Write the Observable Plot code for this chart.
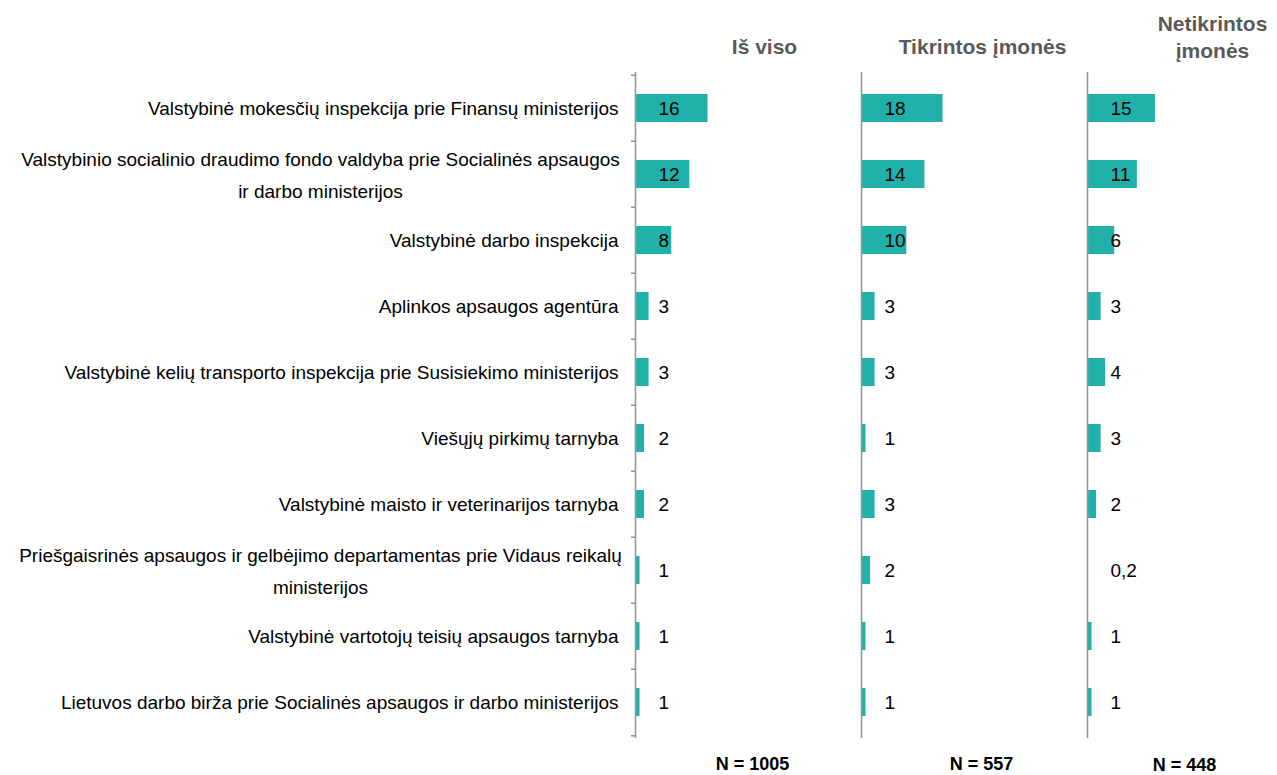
<!DOCTYPE html>
<html><head><meta charset="utf-8">
<script src="https://cdn.jsdelivr.net/npm/d3@7"></script>
<script src="https://cdn.jsdelivr.net/npm/@observablehq/plot@0.6"></script>
<style>
body{margin:0;background:#fff;font-family:"Liberation Sans",Arial,sans-serif}
#chart svg{overflow:visible}
</style>
</head><body><div id="chart"></div>
<script>
const categories = [
  "Valstybinė mokesčių inspekcija prie Finansų ministerijos",
  "Valstybinio socialinio draudimo fondo valdyba prie Socialinės apsaugos\nir darbo ministerijos",
  "Valstybinė darbo inspekcija",
  "Aplinkos apsaugos agentūra",
  "Valstybinė kelių transporto inspekcija prie Susisiekimo ministerijos",
  "Viešųjų pirkimų tarnyba",
  "Valstybinė maisto ir veterinarijos tarnyba",
  "Priešgaisrinės apsaugos ir gelbėjimo departamentas prie Vidaus reikalų\nministerijos",
  "Valstybinė vartotojų teisių apsaugos tarnyba",
  "Lietuvos darbo birža prie Socialinės apsaugos ir darbo ministerijos"
];
const panels = ["Iš viso", "Tikrintos įmonės", "Netikrintos įmonės"];
const panelTitles = ["Iš viso", "Tikrintos įmonės", "Netikrintos\nįmonės"];
const sampleSizes = ["N = 1005", "N = 557", "N = 448"];
const totalValues = [16, 12, 8, 3, 3, 2, 2, 1, 1, 1];
const checkedValues = [18, 14, 10, 3, 3, 1, 3, 2, 1, 1];
const uncheckedValues = [15, 11, 6, 3, 4, 3, 2, 0.2, 1, 1];

const series = [totalValues, checkedValues, uncheckedValues];
const data = panels.flatMap((p, i) => categories.map((c, j) => ({panel: p, category: c, value: series[i][j]})));
const firstPanelCats = categories.map(c => ({panel: panels[0], category: c}));
const axisLines = panels.map(p => ({panel: p, x: 0}));

const fmt = v => String(v).replace(".", ",");
const titleStyle = {fill: "#595959", fontWeight: "bold", fontSize: 21, lineHeight: 1.29, textAnchor: "middle", lineAnchor: "middle", frameAnchor: "top-left"};
const nStyle = {fill: "#000", fontWeight: "bold", fontSize: 18, textAnchor: "middle", lineAnchor: "middle", frameAnchor: "bottom-left"};
const titleOffsets = [[129, -27], [121, -27], [125, -37]];
const nOffsets = [[117, 26], [120, 26], [97, 27]];

const chart = Plot.plot({
  width: 1277,
  height: 775,
  marginLeft: 634,
  marginRight: 0,
  marginTop: 72,
  marginBottom: 37,
  style: {fontFamily: "'Liberation Sans', Arial, sans-serif", fontSize: "19px", color: "#000"},
  fx: {domain: panels, paddingInner: 0.167, paddingOuter: 0, axis: null, label: null},
  x: {domain: [0, 41.5], axis: null},
  y: {domain: categories, paddingInner: 0.58, paddingOuter: 0.29, axis: null},
  marks: [
    Plot.barX(data, {fx: "panel", y: "category", x: "value", fill: "#20B2AA"}),
    Plot.ruleX(axisLines, {fx: "panel", x: "x", stroke: "#969696", strokeWidth: 1.6}),
    Plot.ruleY(firstPanelCats, {fx: "panel", y: "category", x1: -0.9, x2: 0, dy: -33.3, stroke: "#969696", strokeWidth: 1.6}),
    Plot.ruleY(firstPanelCats.slice(-1), {fx: "panel", y: "category", x1: -0.9, x2: 0, dy: 33.3, stroke: "#969696", strokeWidth: 1.6}),
    Plot.text(data, {fx: "panel", y: "category", text: d => fmt(d.value), frameAnchor: "left", dx: 23, textAnchor: "start", fontSize: 19, fill: "#000"}),
    Plot.text(firstPanelCats.filter(d => !d.category.includes("\n")), {fx: "panel", y: "category", text: "category", frameAnchor: "left", dx: -17, textAnchor: "end", fontSize: 19, fill: "#000"}),
    Plot.text(firstPanelCats.filter(d => d.category.includes("\n")), {fx: "panel", y: "category", text: "category", frameAnchor: "left", dx: -315, dy: -3, textAnchor: "middle", lineHeight: 1.68, fontSize: 19, fill: "#000"}),
    ...panels.map((p, i) => Plot.text([{panel: p, t: panelTitles[i]}], {fx: "panel", text: "t", dx: titleOffsets[i][0], dy: titleOffsets[i][1], ...titleStyle})),
    ...panels.map((p, i) => Plot.text([{panel: p, t: sampleSizes[i]}], {fx: "panel", text: "t", dx: nOffsets[i][0], dy: nOffsets[i][1], ...nStyle}))
  ]
});
document.getElementById("chart").appendChild(chart);
</script>
</body></html>
